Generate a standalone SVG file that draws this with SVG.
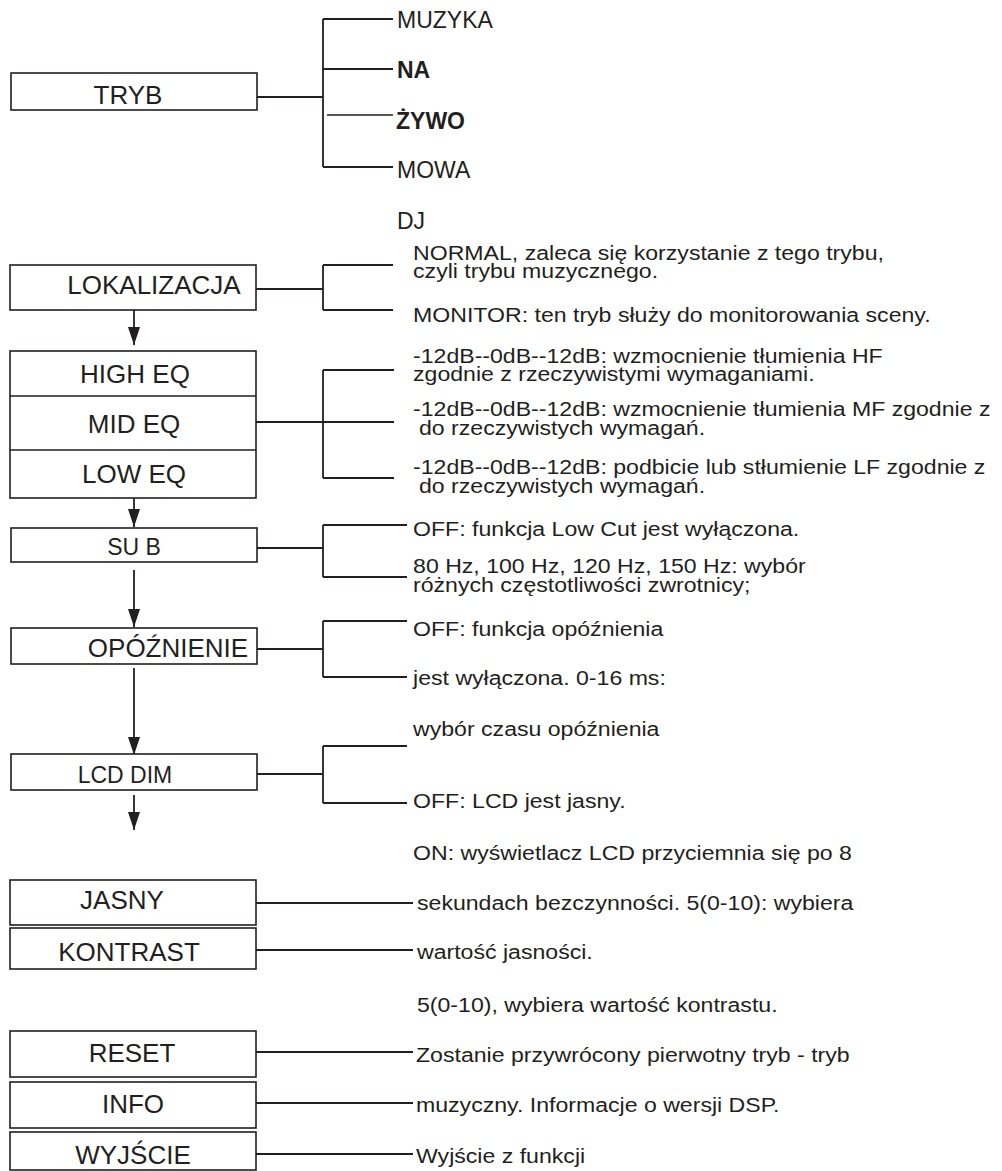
<svg xmlns="http://www.w3.org/2000/svg" width="1002" height="1171" viewBox="0 0 1002 1171">
<style>
.box{fill:#fff;stroke:#231f20;stroke-width:1.6}
.ln{fill:none;stroke:#231f20;stroke-width:1.8}
.nl{font-family:"Liberation Sans",Arial,sans-serif;font-size:26px;fill:#231f20;text-anchor:middle}
.ns{font-family:"Liberation Sans",Arial,sans-serif;font-size:23px;fill:#231f20;text-anchor:middle}
.t{font-family:"Liberation Sans",Arial,sans-serif;font-size:23px;fill:#231f20}
.r{font-family:"Liberation Sans",Arial,sans-serif;font-size:21px;fill:#231f20}
.b{font-weight:bold}
</style>
<defs>
<marker id="ah" markerUnits="userSpaceOnUse" markerWidth="18" markerHeight="12" refX="18" refY="6" orient="auto">
<path d="M0,0 L18,6 L0,12 Z" fill="#231f20"/>
</marker>
</defs>
<rect width="1002" height="1171" fill="#fff"/>

<g id="connectors">
<path class="ln" d="M257,97 H323 M323,19 V167 M323,19 H393 M323,69 H393 M323,167 H393"/>
<path class="ln" d="M327,115 H393" style="stroke-width:1.3"/>
<path class="ln" d="M256,289 H323 M323,265 V310 M323,265 H393 M323,310 H393"/>
<path class="ln" d="M256,422 H394 M323,370 V478 M323,370 H394 M323,478 H394"/>
<path class="ln" d="M257,548 H323 M323,525 V577 M323,525 H407 M323,577 H407"/>
<path class="ln" d="M257,649 H323 M323,621 V677 M323,621 H407 M323,677 H407"/>
<path class="ln" d="M257,774 H323 M323,746 V803 M323,746 H407 M323,803 H407"/>
<path class="ln" d="M256,903 H413 M256,950 H413"/>
<path class="ln" d="M256,1052 H413 M256,1103 H413 M256,1154 H413"/>
<path class="ln" marker-end="url(#ah)" d="M134,310 V345"/>
<path class="ln" marker-end="url(#ah)" d="M134,498 V527"/>
<path class="ln" marker-end="url(#ah)" d="M134,570 V627"/>
<path class="ln" marker-end="url(#ah)" d="M134,668 V755"/>
<path class="ln" marker-end="url(#ah)" d="M134,795 V830"/>
</g>

<g id="tryb"><rect class="box" x="11" y="73" width="246" height="37"/><text class="nl" x="128" y="104">TRYB</text></g>
<g id="tryb-options">
<text class="t" x="397" y="28">MUZYKA</text>
<text class="t b" x="397" y="78">NA</text>
<text class="t b" x="396" y="129">ŻYWO</text>
<text class="t" x="397" y="178">MOWA</text>
<text class="t" x="397" y="229">DJ</text>
</g>

<g id="lokalizacja"><rect class="box" x="10" y="265" width="246" height="45"/><text class="nl" x="154" y="294">LOKALIZACJA</text></g>
<g id="eq">
<rect class="box" x="10" y="351" width="246" height="147"/>
<path class="ln" d="M10,396 H256 M10,450 H256" style="stroke-width:1.6"/>
<text class="nl" x="135" y="383">HIGH EQ</text>
<text class="nl" x="134" y="433">MID EQ</text>
<text class="nl" x="134" y="483">LOW EQ</text>
</g>
<g id="sub"><rect class="box" x="11" y="528" width="246" height="34"/><text class="ns" x="134" y="555">SU B</text></g>
<g id="opoznienie"><rect class="box" x="11" y="628" width="246" height="36"/><text class="nl" x="168" y="657">OPÓŹNIENIE</text></g>
<g id="lcd-dim"><rect class="box" x="11" y="754" width="246" height="36"/><text class="ns" x="125" y="783">LCD DIM</text></g>
<g id="jasny"><rect class="box" x="10" y="880" width="246" height="45"/><text class="nl" x="122" y="909">JASNY</text></g>
<g id="kontrast"><rect class="box" x="10" y="928" width="246" height="41"/><text class="nl" x="129" y="961">KONTRAST</text></g>
<g id="reset"><rect class="box" x="10" y="1031" width="246" height="46"/><text class="nl" x="132" y="1062">RESET</text></g>
<g id="info"><rect class="box" x="10" y="1082" width="246" height="46"/><text class="nl" x="133" y="1113">INFO</text></g>
<g id="wyjscie"><rect class="box" x="10" y="1132" width="246" height="38"/><text class="nl" x="133" y="1164">WYJŚCIE</text></g>

<g id="descriptions" transform="scale(1.1,1)">
<text class="r" x="375.5" y="260">NORMAL, zaleca się korzystanie z tego trybu,</text>
<text class="r" x="375.5" y="278">czyli trybu muzycznego.</text>
<text class="r" x="375.5" y="322">MONITOR: ten tryb służy do monitorowania sceny.</text>
<text class="r" x="375.5" y="363">-12dB--0dB--12dB: wzmocnienie tłumienia HF</text>
<text class="r" x="375.5" y="381">zgodnie z rzeczywistymi wymaganiami.</text>
<text class="r" x="375.5" y="416">-12dB--0dB--12dB: wzmocnienie tłumienia MF zgodnie z</text>
<text class="r" x="380.9" y="435">do rzeczywistych wymagań.</text>
<text class="r" x="375.5" y="474">-12dB--0dB--12dB: podbicie lub stłumienie LF zgodnie z</text>
<text class="r" x="380.9" y="493">do rzeczywistych wymagań.</text>
<text class="r" x="375.5" y="536">OFF: funkcja Low Cut jest wyłączona.</text>
<text class="r" x="375.5" y="573">80 Hz, 100 Hz, 120 Hz, 150 Hz: wybór</text>
<text class="r" x="375.5" y="592">różnych częstotliwości zwrotnicy;</text>
<text class="r" x="375.5" y="636">OFF: funkcja opóźnienia</text>
<text class="r" x="375.5" y="685">jest wyłączona. 0-16 ms:</text>
<text class="r" x="375.5" y="736">wybór czasu opóźnienia</text>
<text class="r" x="375.5" y="808">OFF: LCD jest jasny.</text>
<text class="r" x="375.5" y="860">ON: wyświetlacz LCD przyciemnia się po 8</text>
<text class="r" x="379.1" y="910">sekundach bezczynności. 5(0-10): wybiera</text>
<text class="r" x="379.1" y="959">wartość jasności.</text>
<text class="r" x="379.1" y="1012">5(0-10), wybiera wartość kontrastu.</text>
<text class="r" x="378.2" y="1062">Zostanie przywrócony pierwotny tryb - tryb</text>
<text class="r" x="378.2" y="1112">muzyczny. Informacje o wersji DSP.</text>
<text class="r" x="378.2" y="1163">Wyjście z funkcji</text>
</g>
</svg>
